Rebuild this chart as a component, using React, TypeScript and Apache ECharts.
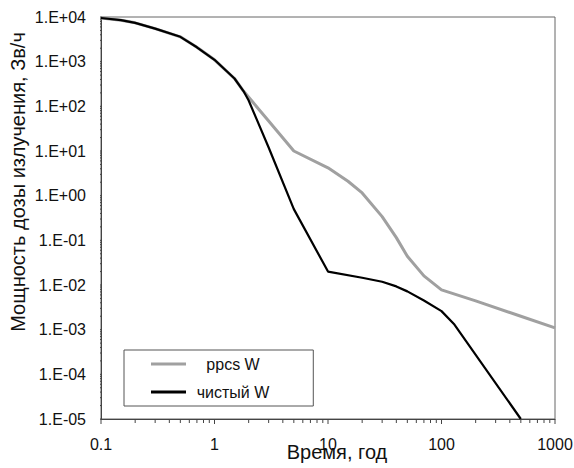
import React, { useEffect, useRef } from "react";
import * as echarts from "echarts";

// Time, years
const timePpcs = [0.1, 0.15, 0.2, 0.3, 0.5, 0.7, 1, 1.5, 1.8, 3, 5, 10, 15, 20, 30, 40, 50, 70, 100, 200, 500, 1000];
// Dose rate, Sv/h — "ppcs W"
const ppcsW = [9500, 8500, 7400, 5500, 3600, 2100, 1100, 420, 220, 47, 10, 4.2, 2.1, 1.15, 0.34, 0.115, 0.044, 0.016, 0.0078, 0.0044, 0.002, 0.0011];

const timePure = [0.1, 0.15, 0.2, 0.3, 0.5, 0.7, 1, 1.5, 1.8, 2, 3, 5, 10, 20, 30, 40, 50, 70, 100, 130, 500];
// Dose rate, Sv/h — "чистый W"
const pureW = [9500, 8500, 7400, 5500, 3600, 2100, 1100, 420, 220, 135, 12, 0.5, 0.02, 0.0145, 0.0118, 0.0093, 0.0072, 0.0045, 0.0026, 0.0013, 0.00001];

const seriesNames = ["ppcs W", "чистый W"];

const xTickValues = [0.1, 1, 10, 100, 1000];
const xTickLabels = ["0.1", "1", "10", "100", "1000"];
const yTickValues = [1e-5, 1e-4, 1e-3, 1e-2, 1e-1, 1, 10, 100, 1000, 10000];
const yTickLabels = ["1.E-05", "1.E-04", "1.E-03", "1.E-02", "1.E-01", "1.E+00", "1.E+01", "1.E+02", "1.E+03", "1.E+04"];

const xTitle = "Время, год";
const yTitle = "Мощность дозы излучения, Зв/ч";

// minor tick values (2..9 × each decade)
const minorsOf = (decades: number[]) => {
  const out: number[] = [];
  decades.slice(0, -1).forEach((d) => {
    for (let k = 2; k <= 9; k++) out.push(parseFloat((k * d).toPrecision(6)));
  });
  return out;
};

const FONT = '"Liberation Sans", Arial, sans-serif';
const TICK_COLOR = "#444";

// plot geometry (px)
const GRID = { left: 101, right: 19, top: 17, bottom: 49 };
const W = 574;
const H = 468;

export default function App() {
  const ref = useRef<HTMLDivElement>(null);
  useEffect(() => {
    if (!ref.current) return;
    const chart = echarts.init(ref.current, null, { renderer: "svg" });
    const labelFor = (vals: number[], labels: string[]) => (v: number) => {
      let best = 0;
      vals.forEach((t, i) => {
        if (Math.abs(Math.log10(t) - Math.log10(v)) < Math.abs(Math.log10(vals[best]) - Math.log10(v))) best = i;
      });
      return labels[best];
    };
    const axisColor = "#444";
    const xMin = xTickValues[0];
    const yMin = yTickValues[0];

    // pixels per decade on each axis, to turn a tick length in px into a factor on the log scale
    const xDecades = Math.log10(xTickValues[xTickValues.length - 1] / xMin);
    const yDecades = Math.log10(yTickValues[yTickValues.length - 1] / yMin);
    const xPxPerDecade = (W - GRID.left - GRID.right) / xDecades;
    const yPxPerDecade = (H - GRID.top - GRID.bottom) / yDecades;
    const xFactor = (px: number) => Math.pow(10, -px / xPxPerDecade);
    const yFactor = (px: number) => Math.pow(10, -px / yPxPerDecade);

    const xTickSeg: any[] = [];
    const addX = (v: number, len: number) => {
      xTickSeg.push([v, yMin * yFactor(len)], [v, yMin], [v, "-"]);
    };
    xTickValues.forEach((v) => addX(v, 5));
    minorsOf(xTickValues).forEach((v) => addX(v, 4));

    const yTickSeg: any[] = [];
    const addY = (v: number, len: number) => {
      yTickSeg.push([xMin * xFactor(len), v], [xMin, v], [xMin, "-"]);
    };
    yTickValues.forEach((v) => addY(v, 5));
    minorsOf(yTickValues).forEach((v) => addY(v, 3));

    const tickLine = (name: string, data: any[]) => ({
      name, type: "line", silent: true, clip: false, z: 4,
      showSymbol: false, symbol: "none", connectNulls: false,
      lineStyle: { width: 1, color: TICK_COLOR },
      itemStyle: { color: TICK_COLOR },
      emphasis: { disabled: true },
      data,
    });

    chart.setOption({
      animation: false,
      backgroundColor: "#fff",
      grid: {
        ...GRID,
        show: true, borderColor: "#666", borderWidth: 1,
        containLabel: false, outerBoundsMode: "none",
      },
      legend: {
        left: 124, top: 350, orient: "vertical",
        padding: [6, 44, 6, 27], itemGap: 12, itemWidth: 35, itemHeight: 3,
        icon: "rect",
        borderColor: "#555", borderWidth: 1, borderRadius: 0, backgroundColor: "#fff",
        formatter: (name: string) => `{c|${name}}`,
        textStyle: {
          fontFamily: FONT, fontSize: 16, color: "#111",
          rich: { c: { width: 84, height: 18, align: "center", fontFamily: FONT, fontSize: 16, color: "#111" } },
        },
        data: [
          { name: seriesNames[0], itemStyle: { color: "#a0a0a0" } },
          { name: seriesNames[1], itemStyle: { color: "#000" } },
        ],
      },
      xAxis: {
        type: "log", logBase: 10, min: 0.1, max: 1000, splitLine: { show: false },
        position: "bottom",
        name: xTitle, nameLocation: "middle", nameGap: 23, nameMoveOverlap: false,
        nameTextStyle: { fontFamily: FONT, fontSize: 20, color: "#111", padding: [0, 0, 0, 18] },
        axisLine: { show: true, lineStyle: { color: axisColor, width: 1 } },
        axisTick: { show: false },
        axisLabel: {
          margin: 17,
          fontFamily: FONT, fontSize: 16, color: "#111",
          formatter: labelFor(xTickValues, xTickLabels),
        },
      },
      yAxis: {
        type: "log", logBase: 10, min: 1e-5, max: 1e4, splitLine: { show: false },
        position: "left",
        axisLine: { show: true, lineStyle: { color: axisColor, width: 1 } },
        axisTick: { show: false },
        axisLabel: {
          margin: 15,
          fontFamily: FONT, fontSize: 16, color: "#111",
          formatter: labelFor(yTickValues, yTickLabels),
        },
      },
      graphic: [
        {
          type: "text",
          x: 18, y: 182, rotation: Math.PI / 2,
          style: { text: yTitle, font: `20px ${FONT}`, fill: "#111", align: "center", verticalAlign: "middle" },
        },
      ],
      series: [
        {
          name: seriesNames[0], type: "line",
          showSymbol: false, symbol: "none", clip: true,
          lineStyle: { width: 3, color: "#a0a0a0" }, itemStyle: { color: "#a0a0a0" },
          data: timePpcs.map((t, i) => [t, ppcsW[i]]),
          z: 2,
        },
        {
          name: seriesNames[1], type: "line",
          showSymbol: false, symbol: "none", clip: true,
          lineStyle: { width: 2.2, color: "#000" }, itemStyle: { color: "#000" },
          data: timePure.map((t, i) => [t, pureW[i]]),
          z: 3,
        },
        tickLine("xTicks", xTickSeg),
        tickLine("yTicks", yTickSeg),
      ],
    });

    return () => chart.dispose();
  }, []);
  return <div ref={ref} style={{ position: "fixed", left: 0, top: 0, width: W, height: H }} />;
}
